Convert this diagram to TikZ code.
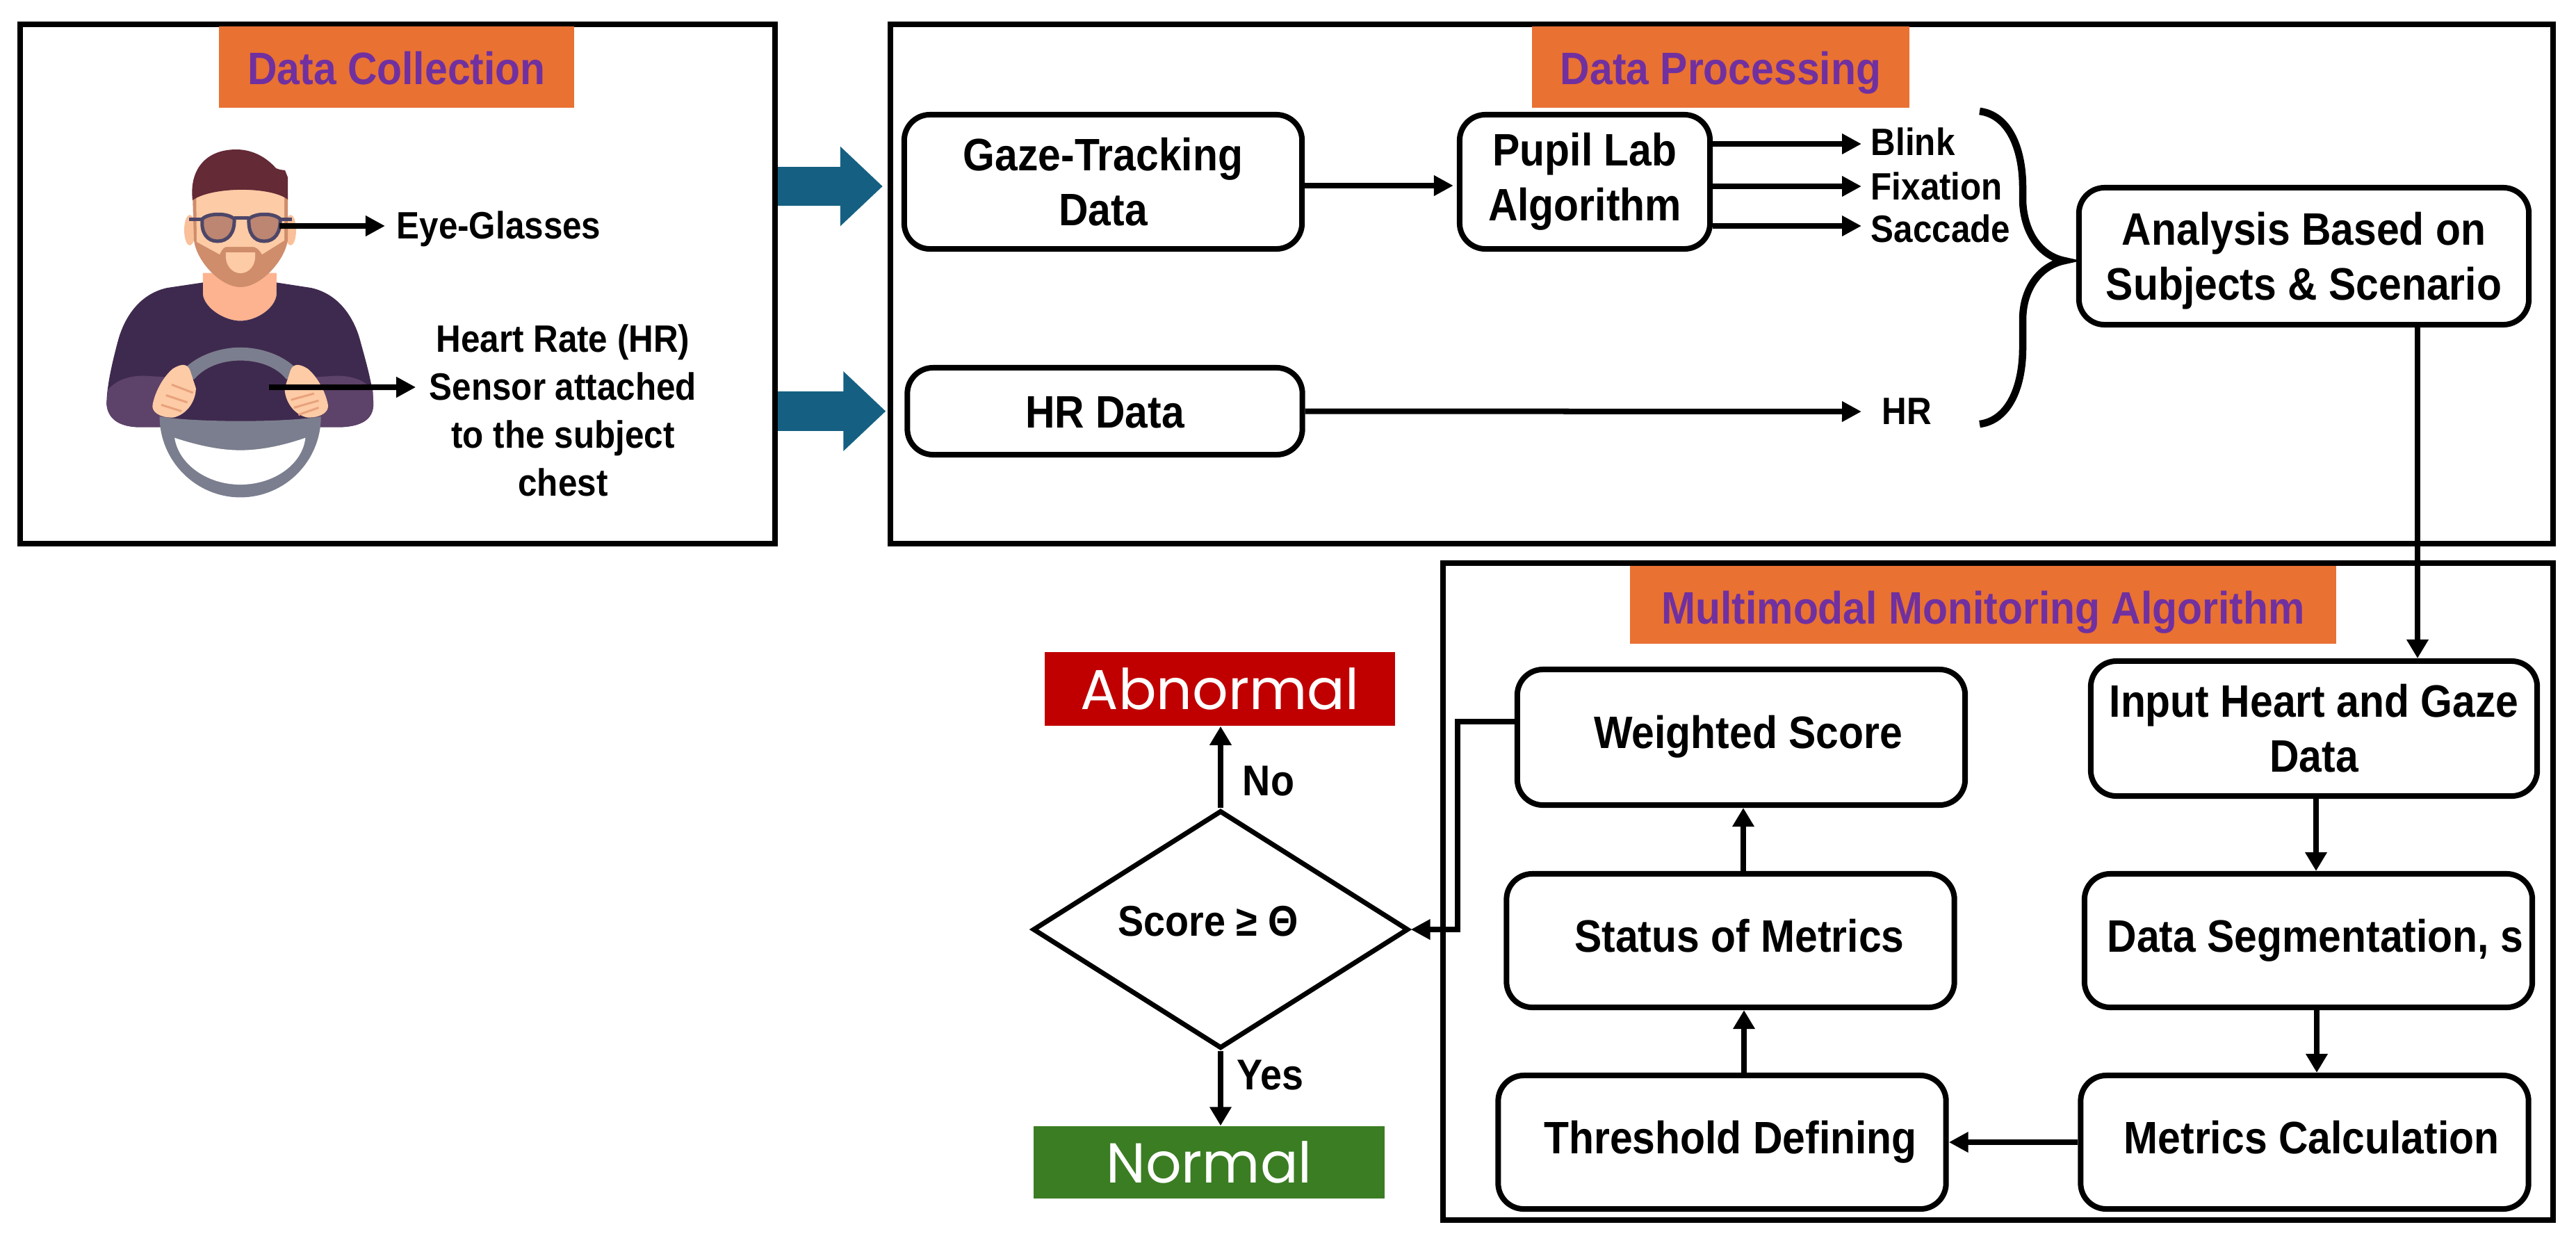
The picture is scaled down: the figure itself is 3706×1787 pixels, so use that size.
\documentclass[tikz,border=0pt]{standalone}
\usepackage{fontspec}
\setmainfont{Liberation Sans}[FakeStretch=0.9]
\newfontfamily\popfont{Poppins}
\usetikzlibrary{arrows.meta,shapes.geometric}
\definecolor{orangeT}{HTML}{E97132}
\definecolor{purpleT}{HTML}{7030A0}
\definecolor{blueA}{HTML}{156082}
\definecolor{redN}{HTML}{C00000}
\definecolor{greenN}{HTML}{3B7D23}
\definecolor{hairC}{HTML}{642A36}
\definecolor{skinC}{HTML}{FDCBA5}
\definecolor{earC}{HTML}{F9C09A}
\definecolor{beardC}{HTML}{CF8D6B}
\definecolor{neckC}{HTML}{FDB38F}
\definecolor{shirtC}{HTML}{3F2A4F}
\definecolor{sleeveC}{HTML}{5D4269}
\definecolor{wheelC}{HTML}{7B7E8E}
\definecolor{glassC}{HTML}{4D4668}
\definecolor{lensC}{HTML}{BC8672}
\definecolor{stripeC}{HTML}{E8A27C}
\tikzset{
  frame/.style={draw,line width=.08cm,inner sep=0},
  title/.style={fill=orangeT,text=purpleT,inner sep=0,text height=.5cm,text depth=0pt,font=\fontsize{18.6}{22.5}\selectfont\bfseries},
  rbox/.style={draw,line width=.08cm,rounded corners=.37cm,inner sep=0,align=center,font=\fontsize{18.6}{22.5}\selectfont\bfseries},
  onel/.style={text height=.32cm,text depth=0pt},
  lab/.style={inner sep=0,align=center,font=\fontsize{15.6}{19.6}\selectfont\bfseries},
  result/.style={inner sep=0,text=white,font=\fontsize{23}{27}\selectfont\popfont},
  dec/.style={inner sep=0,font=\fontsize{17.6}{20}\selectfont\bfseries},
  harr/.style={line width=.08cm,-{Triangle[length=.28cm,width=.28cm]}},
  varr/.style={line width=.08cm,-{Triangle[length=.27cm,width=.3cm]}},
  bigarr/.style={draw=blueA,line width=.56cm,-{Triangle[length=.61cm,width=1.11cm]}},
}
\begin{document}
\begin{tikzpicture}[x=.01cm,y=-.01cm]
\useasboundingbox (0,0) rectangle (3706,1787);
% frames
\node[frame,minimum width=10.86cm,minimum height=7.47cm] (dc) at (572,408.5) {};
\node[frame,minimum width=23.9cm,minimum height=7.47cm] (dp) at (2477,408.5) {};
\node[frame,minimum width=15.96cm,minimum height=9.45cm] (mm) at (2874,1282.5) {};
% titles
\node[title,minimum width=5.11cm,minimum height=1.17cm] (t1) at (570.5,96.5) {Data Collection};
\node[title,minimum width=5.43cm,minimum height=1.17cm] (t2) at (2475.5,96.5) {Data Processing};
\node[title,minimum width=10.16cm,minimum height=1.12cm,text height=.55cm] (t3) at (2853,870) {Multimodal Monitoring Algorithm};
% driver
\begin{scope}[x=.00829cm,y=-.0051cm]
\fill[neckC] (352,770) -- (352,830) .. controls (355,870) and (390,905) .. (417,905) .. controls (445,905) and (478,870) .. (480,830) -- (480,770) -- cycle;
\fill[shirtC,even odd rule] (352,797) -- (290,812) .. controls (240,830) and (215,900) .. (205,960) .. controls (195,1020) and (185,1090) .. (185,1140) .. controls (187,1180) and (205,1203) .. (240,1205) -- (590,1205) .. controls (630,1203) and (648,1180) .. (648,1140) .. controls (648,1090) and (635,1020) .. (625,960) .. controls (615,900) and (590,830) .. (540,812) -- (480,797) -- (480,830) .. controls (478,870) and (445,905) .. (417,905) .. controls (390,905) and (355,870) .. (352,830) -- cycle;
\fill[sleeveC] (187,1100) .. controls (200,1075) and (220,1060) .. (250,1060) -- (300,1065) -- (290,1205) -- (240,1205) .. controls (205,1203) and (187,1180) .. (185,1140) -- cycle;
\fill[sleeveC] (647,1100) .. controls (634,1075) and (614,1060) .. (584,1060) -- (534,1065) -- (544,1205) -- (590,1205) .. controls (630,1203) and (648,1180) .. (648,1140) -- cycle;
% wheel
\fill[wheelC] (277,1175) .. controls (340,1192) and (495,1192) .. (557,1175) .. controls (557,1300) and (495,1403) .. (417,1403) .. controls (340,1403) and (277,1300) .. (277,1175) -- cycle;
\fill[white] (303,1235) .. controls (340,1255) and (380,1270) .. (417,1270) .. controls (455,1270) and (495,1255) .. (530,1235) .. controls (525,1310) and (475,1367) .. (417,1367) .. controls (360,1367) and (310,1310) .. (303,1235) -- cycle;
\fill[wheelC] (312,1055) .. controls (335,1005) and (380,980) .. (417,980) .. controls (455,980) and (500,1005) .. (522,1055) -- (497,1070) .. controls (480,1035) and (450,1017) .. (417,1017) .. controls (385,1017) and (355,1035) .. (337,1070) -- cycle;
% hands
\fill[skinC] (300,1040) .. controls (315,1025) and (325,1025) .. (330,1045) -- (340,1095) .. controls (340,1130) and (325,1170) .. (300,1178) .. controls (275,1178) and (262,1160) .. (265,1140) .. controls (270,1100) and (285,1060) .. (300,1040) -- cycle;
\fill[skinC] (534,1040) .. controls (519,1025) and (509,1025) .. (504,1045) -- (494,1095) .. controls (494,1130) and (509,1170) .. (534,1178) .. controls (559,1178) and (572,1160) .. (569,1140) .. controls (564,1100) and (549,1060) .. (534,1040) -- cycle;
\draw[stripeC,line width=.03cm] (298,1085) -- (335,1108) (288,1115) -- (325,1135) (280,1142) -- (315,1160);
\draw[stripeC,line width=.03cm] (505,1128) -- (545,1110) (510,1150) -- (553,1130) (518,1170) -- (553,1150);
\end{scope}
% head
\fill[earC] (273,331) ellipse [x radius=8,y radius=22];
\fill[earC] (418,331) ellipse [x radius=8,y radius=22];
\fill[beardC] (277,280) -- (414,280) -- (414,345) .. controls (410,375) and (375,413) .. (346,413) .. controls (317,413) and (282,375) .. (279,345) -- cycle;
\fill[skinC] (282,262) -- (409,262) -- (409,346) -- (377,366) .. controls (372,358) and (368,355) .. (363,355) -- (327,355) .. controls (322,355) and (320,358) .. (316,366) -- (283,348) -- cycle;
\fill[skinC] (325,363) -- (367,363) .. controls (369,382) and (358,393) .. (346,393) .. controls (334,393) and (323,382) .. (325,363) -- cycle;
\fill[hairC] (277,288) .. controls (272,245) and (295,215) .. (340,215) .. controls (365,215) and (385,228) .. (397,242) -- (403,244) -- (410,245) -- (414,255) -- (414,287) .. controls (390,268) and (305,268) .. (277,288) -- cycle;
\draw[glassC,line width=.05cm,fill=lensC] (291,315) .. controls (300,306) and (328,306) .. (337,315) .. controls (338,335) and (328,347) .. (313,347) .. controls (298,347) and (289,335) .. (291,315) -- cycle;
\draw[glassC,line width=.05cm,fill=lensC] (358,315) .. controls (367,306) and (394,306) .. (403,315) .. controls (404,335) and (395,347) .. (380,347) .. controls (365,347) and (357,335) .. (358,315) -- cycle;
\draw[glassC,line width=.05cm] (272,315) -- (291,315) (337,313) -- (358,313) (403,315) -- (420,315);
\coordinate (eye) at (402,325);
\coordinate (chest) at (387,557);
\node[lab,anchor=west] (eyetxt) at (570,329) {Eye-Glasses};
\node[lab] (hrtxt) at (810,590) {Heart Rate (HR)\\Sensor attached\\to the subject\\chest};
\draw[harr] (eye) -- ([xshift=-.16cm,yshift=.04cm]eyetxt.west);
\draw[harr] (chest) -- ([xshift=-.19cm,yshift=.33cm]hrtxt.west);
% processing boxes
\node[rbox,minimum width=5.72cm,minimum height=1.93cm] (gaze) at (1587,261.5) {Gaze-Tracking\\Data};
\node[rbox,minimum width=3.6cm,minimum height=1.93cm] (pupil) at (2280,261.5) {Pupil Lab\\Algorithm};
\node[rbox,minimum width=5.68cm,minimum height=1.25cm,text height=.47cm,text depth=0pt] (hrd) at (1589.5,591.5) {HR Data};
\node[rbox,minimum width=6.47cm,minimum height=1.97cm] (ana) at (3314.5,368.5) {\rule{0pt}{.6cm}Analysis Based on\\Subjects \& Scenario};
\node[lab,anchor=west] (blink) at (2691,204) {Blink};
\node[lab,anchor=west] (fix) at (2691,268) {Fixation};
\node[lab,anchor=west] (sac) at (2691,329) {Saccade};
\node[lab,anchor=west] (hrl) at (2707,592) {HR};
\draw[bigarr,shorten >=.27cm] ([yshift=-.065cm]dc.east |- gaze.west) -- ([yshift=-.065cm]gaze.west);
\draw[bigarr,shorten >=.27cm] (dc.east |- hrd.west) -- (hrd.west);
\draw[harr] ([yshift=-.055cm]gaze.east) -- ([xshift=-.05cm,yshift=-.055cm]pupil.west);
\draw[harr] (pupil.east |- blink.west) ++(0,3) -- ([xshift=-.13cm]blink.west |- 0,207);
\draw[harr] (pupil.east |- fix.west) -- ([xshift=-.13cm]fix.west);
\draw[harr] (pupil.east |- sac.west) ++(0,-4) -- ([xshift=-.13cm]sac.west |- 0,325);
\draw[harr] (hrd.east) -- ([xshift=-.29cm]hrl.west);
\draw[line width=.105cm] (2848,160) .. controls (2888,165) and (2910,210) .. (2910,270) -- (2910,290) .. controls (2912,335) and (2935,368) .. (2970,375) .. controls (2935,382) and (2910,415) .. (2910,460) -- (2910,500) .. controls (2910,560) and (2888,605) .. (2848,610);
% algorithm boxes
\node[rbox,minimum width=6.42cm,minimum height=1.94cm] (inp) at (3329,1048) {Input Heart and Gaze\\Data};
\node[rbox,minimum width=6.44cm,minimum height=1.92cm,onel] (seg) at (3321,1353) {\hspace*{.2cm}Data Segmentation, s};
\node[rbox,minimum width=6.44cm,minimum height=1.92cm,onel] (met) at (3315.5,1643) {\hspace*{.2cm}Metrics Calculation};
\node[rbox,minimum width=6.44cm,minimum height=1.92cm,onel] (thr) at (2477.5,1643) {\hspace*{.24cm}Threshold Defining};
\node[rbox,minimum width=6.44cm,minimum height=1.92cm,onel] (sta) at (2489.5,1353) {\hspace*{.26cm}Status of Metrics};
\node[rbox,minimum width=6.44cm,minimum height=1.95cm,onel] (wei) at (2505,1060.5) {\hspace*{.2cm}Weighted Score};
\draw[varr] (ana.south -| 3478,0) -- (inp.north -| 3478,0);
\draw[varr] (inp.south -| 3332,0) -- (seg.north -| 3332,0);
\draw[varr] (seg.south -| 3333,0) -- (met.north -| 3333,0);
\draw[harr] (met.west) -- (thr.east);
\draw[varr] (thr.north -| 2509,0) -- (sta.south -| 2509,0);
\draw[varr] (sta.north -| 2508,0) -- (wei.south -| 2508,0);
% decision
\node[diamond,draw,line width=.07cm,inner sep=0,aspect=1.58,minimum width=5.4cm,minimum height=3.42cm] (dia) at (1756,1337) {};
\node[dec] (diatxt) at (1738,1325) {Score ≥ Θ};
\node[result,fill=redN,minimum width=5.04cm,minimum height=1.06cm] (abn) at (1755,991) {Abnormal};
\node[result,fill=greenN,minimum width=5.05cm,minimum height=1.04cm] (nor) at (1739.5,1672) {Normal};
\node[dec] (no) at (1825,1123) {No};
\node[dec] (yes) at (1827,1546) {Yes};
\draw[varr] (dia.north) -- (abn.south -| dia.north);
\draw[varr] (dia.south) -- (nor.north -| dia.south);
\coordinate (bend) at (2097,1337);
\draw[harr,line cap=rect] ([yshift=.225cm]wei.west) -| (bend) -- (dia.east);
\end{tikzpicture}
\end{document}
